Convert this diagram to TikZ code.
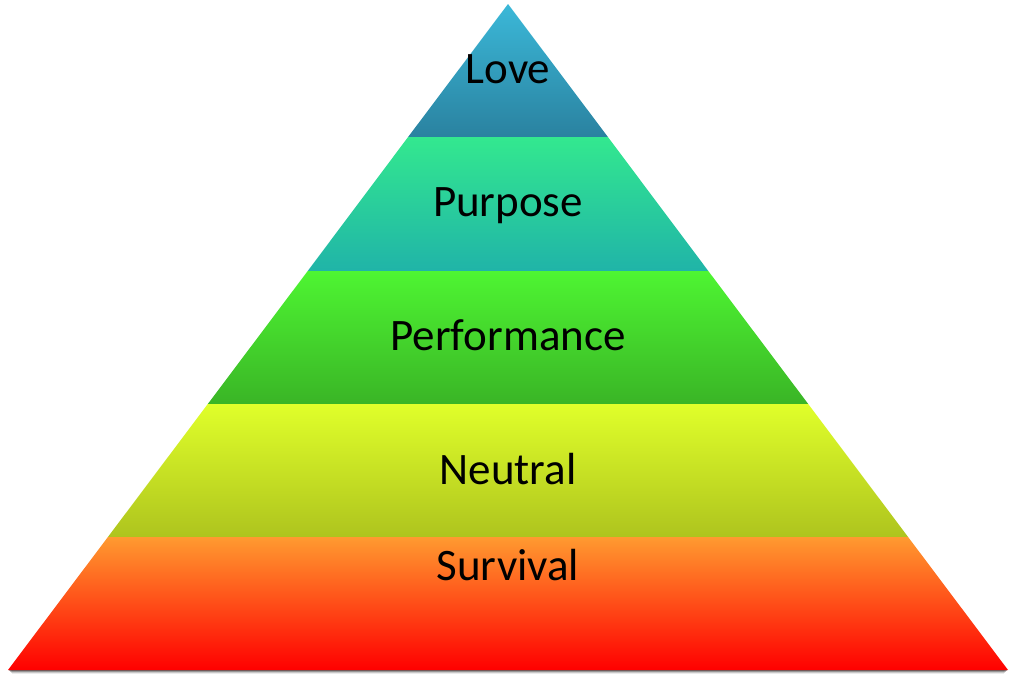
\documentclass[tikz,border=0pt]{standalone}
\usepackage{fontspec}
\setmainfont{Carlito}
\definecolor{loveT}{HTML}{3BB8D8}
\definecolor{loveB}{HTML}{2A82A0}
\definecolor{purpT}{HTML}{33E88F}
\definecolor{purpB}{HTML}{20B4A8}
\definecolor{perfT}{HTML}{4EF532}
\definecolor{perfB}{HTML}{3AB526}
\definecolor{neutT}{HTML}{E0FF2A}
\definecolor{neutB}{HTML}{AEC41E}
\definecolor{survT}{HTML}{FF9A30}
\definecolor{survB}{HTML}{FF0000}
\tikzset{
  lbl/.style={anchor=base, font=\fontsize{45}{54}\selectfont, text=black, inner sep=0pt},
}
\begin{document}
\begin{tikzpicture}[x=1pt,y=-1pt]
\useasboundingbox (0,0) rectangle (1016,683);
% shadow under the base
\foreach \d/\o in {1/0.35,2/0.25,3/0.15,4/0.08}{
  \fill[black,opacity=\o] (8+\d,670) rectangle (1008-\d,670+\d);
}
% layers (x_left(y) = 508 - 500*(y-4)/666)
\shade[top color=loveT, bottom color=loveB] (508,4) -- (408.1,137) -- (607.9,137) -- cycle;
\shade[top color=purpT, bottom color=purpB] (408.1,137) -- (607.9,137) -- (708.3,271) -- (307.7,271) -- cycle;
\shade[top color=perfT, bottom color=perfB] (307.7,271) -- (708.3,271) -- (808.2,404) -- (207.8,404) -- cycle;
\shade[top color=neutT, bottom color=neutB] (207.8,404) -- (808.2,404) -- (908.1,537) -- (107.9,537) -- cycle;
\shade[top color=survT, bottom color=survB] (107.9,537) -- (908.1,537) -- (1008,670) -- (8,670) -- cycle;
% labels
\node[lbl] (love) at (508,83) {Love};
\node[lbl] (purpose) at (508,216) {Purpose};
\node[lbl] (performance) at (508,350) {Performance};
\node[lbl] (neutral) at (508,484) {Neutral};
\node[lbl] (survival) at (508,580) {Survival};
\end{tikzpicture}
\end{document}
